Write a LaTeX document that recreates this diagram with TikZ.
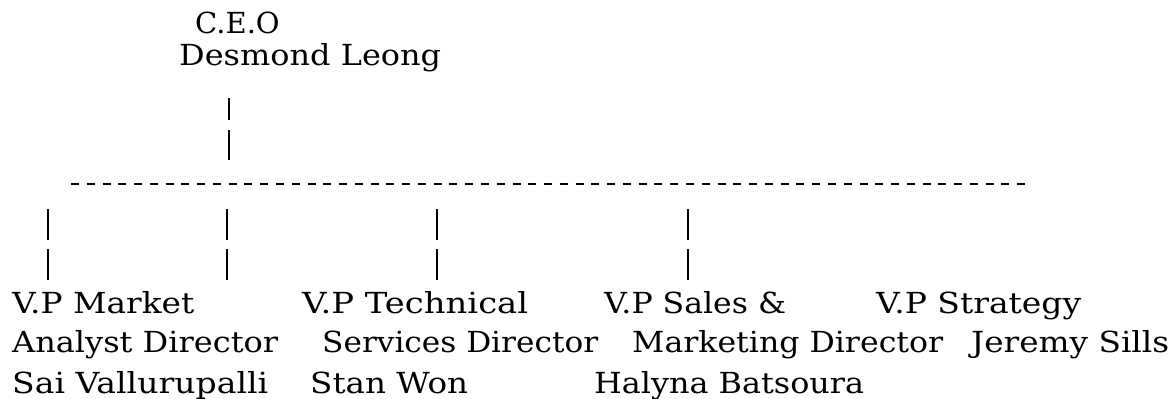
\documentclass[tikz,border=0pt]{standalone}
\usepackage{fontspec}
\usepackage{graphicx}
\setmainfont{DejaVu Serif}
\newcommand\fitw[2]{\resizebox{#1pt}{\height}{#2}}
\begin{document}
\begin{tikzpicture}[x=1pt,y=-1pt,
  txt/.style={anchor=base west,inner sep=0pt,font=\fontsize{29}{35}\selectfont},
  bar/.style={line width=1.7pt},
  dashline/.style={line width=2.2pt,dash pattern=on 8pt off 7.77pt}]
\useasboundingbox (0,0) rectangle (1173,399);
% CEO
\node[txt] (ceo) at (195,33) {C.E.O};
\node[txt] (ceoname) at (179,65) {\fitw{262}{Desmond Leong}};
\coordinate (c1a) at (229,98); \coordinate (c1b) at (229,120);
\coordinate (c2a) at (229,130); \coordinate (c2b) at (229,160);
\draw[bar] (c1a) -- (c1b);
\draw[bar] (c2a) -- (c2b);
% horizontal dashed line
\coordinate (hl) at (71,184); \coordinate (hr) at (1026,184);
\draw[dashline] (hl) -- (hr);
% vertical bars to VPs
\foreach \x/\n in {48/a,227/b,437/c,688/d}{
  \coordinate (\n1) at (\x,209); \coordinate (\n2) at (\x,240);
  \coordinate (\n3) at (\x,249); \coordinate (\n4) at (\x,280);
  \draw[bar] (\n1) -- (\n2);
  \draw[bar] (\n3) -- (\n4);
}
% VP 1
\node[txt] (v1a) at (12,313) {\fitw{182}{V.P Market}};
\node[txt] (v1b) at (12,352) {\fitw{266}{Analyst Director}};
\node[txt] (v1c) at (12,393) {\fitw{256}{Sai Vallurupalli}};
% VP 2
\node[txt] (v2a) at (302,313) {\fitw{226}{V.P Technical}};
\node[txt] (v2b) at (322,352) {\fitw{276}{Services Director}};
\node[txt] (v2c) at (310,393) {\fitw{158}{Stan Won}};
% VP 3
\node[txt] (v3a) at (604,313) {\fitw{182}{V.P Sales \&}};
\node[txt] (v3b) at (632,352) {\fitw{311}{Marketing Director}};
\node[txt] (v3c) at (594,393) {\fitw{270}{Halyna Batsoura}};
% VP 4
\node[txt] (v4a) at (876,313) {\fitw{205}{V.P Strategy}};
\node[txt] (v4b) at (971,352) {\fitw{198}{Jeremy Sills}};
\end{tikzpicture}
\end{document}
